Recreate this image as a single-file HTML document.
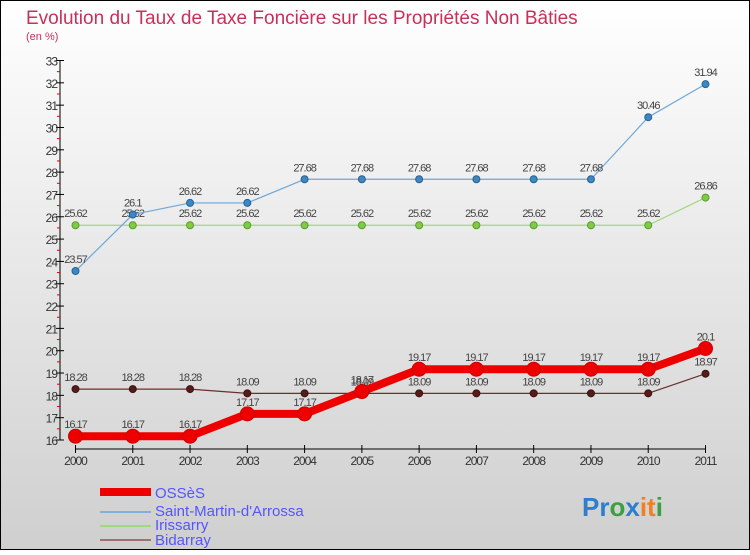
<!DOCTYPE html>
<html><head><meta charset="utf-8"><style>
body{margin:0;width:750px;height:550px;overflow:hidden;font-family:"Liberation Sans",sans-serif}
svg text{font-family:"Liberation Sans",sans-serif}
</style></head><body>
<svg id="c" width="750" height="550" xmlns="http://www.w3.org/2000/svg">
<defs><linearGradient id="bg" x1="0" y1="0" x2="0" y2="1"><stop offset="0" stop-color="#ffffff"/><stop offset="1" stop-color="#cfcfcf"/></linearGradient></defs>
<rect x="0.5" y="0.5" width="749" height="549" fill="url(#bg)" stroke="#000"/>
<text x="26" y="24" font-size="19" fill="#c8305a">Evolution du Taux de Taxe Foncière sur les Propriétés Non Bâties</text>
<text x="26" y="40" font-size="11" fill="#c8305a">(en %)</text>
<g id="axes"></g><g id="series"></g>
<g>
<rect x="100" y="488" width="51" height="8" fill="#ee0000"/>
<text x="155" y="498" font-size="15" fill="#5555ff">OSSèS</text>
<rect x="100" y="511" width="51" height="2" fill="#7fb0d8"/>
<text x="155" y="516" font-size="15" fill="#5555ff">Saint-Martin-d'Arrossa</text>
<rect x="100" y="525" width="51" height="2" fill="#9ed87f"/>
<text x="155" y="530" font-size="15" fill="#5555ff">Irissarry</text>
<rect x="100" y="539" width="51" height="2" fill="#a07070"/>
<text x="155" y="545" font-size="15" fill="#5555ff">Bidarray</text>
</g>
<text x="582" y="516" font-size="26" font-weight="bold"><tspan fill="#2a7fd0">Pr</tspan><tspan fill="#3aa040">o</tspan><tspan fill="#2a7fd0">x</tspan><tspan fill="#f08020">it</tspan><tspan fill="#3aa040">i</tspan></text>
</svg>
<script>
const years=["2000","2001","2002","2003","2004","2005","2006","2007","2008","2009","2010","2011"];
const osses=[16.17,16.17,16.17,17.17,17.17,18.17,19.17,19.17,19.17,19.17,19.17,20.1];
const saintMartin=[23.57,26.1,26.62,26.62,27.68,27.68,27.68,27.68,27.68,27.68,30.46,31.94];
const irissarry=[25.62,25.62,25.62,25.62,25.62,25.62,25.62,25.62,25.62,25.62,25.62,26.86];
const bidarray=[18.28,18.28,18.28,18.09,18.09,18.09,18.09,18.09,18.09,18.09,18.09,18.97];
const yTicks=[16,17,18,19,20,21,22,23,24,25,26,27,28,29,30,31,32,33];
const NS="http://www.w3.org/2000/svg";
const X=i=>75.5+i*(630/11);
const Y=v=>440-(v-16)*(379.5/17);
function mk(p,t,a){const e=document.createElementNS(NS,t);for(const k in a)e.setAttribute(k,a[k]);p.appendChild(e);return e;}
const ax=document.getElementById('axes'),se=document.getElementById('series');
let l=mk(ax,'line',{x1:60,y1:Y(33),x2:60,y2:440,stroke:'#000'});

yTicks.forEach(v=>{mk(ax,'line',{x1:56,x2:64,y1:Y(v),y2:Y(v),stroke:'#000'});
 if(v<33)mk(ax,'line',{x1:57,x2:60,y1:Y(v+0.5),y2:Y(v+0.5),stroke:'#e00000'});
 const t=mk(ax,'text',{x:57,y:Y(v)+5,'font-size':12,fill:'#333','text-anchor':'end','letter-spacing':'-1'});t.textContent=v;
 });
l=mk(ax,'line',{x1:X(0),y1:449,x2:X(11),y2:449,stroke:'#000'});

years.forEach((y,i)=>{mk(ax,'line',{x1:X(i),x2:X(i),y1:445,y2:453,stroke:'#000'});
 const t=mk(ax,'text',{x:X(i),y:465,'font-size':12,fill:'#333','text-anchor':'middle','letter-spacing':'-1'});t.textContent=y;
 });
function series(d,name,line,w,dot,r,dotStroke){
 const g=mk(se,'g',{});
 const p=mk(g,'polyline',{points:d.map((v,i)=>X(i)+','+Y(v)).join(' '),fill:'none',stroke:line,'stroke-width':w,'stroke-linejoin':'round'});
 
 d.forEach((v,i)=>{const c=mk(g,'circle',{cx:X(i),cy:Y(v),r:r,fill:dot,stroke:dotStroke,'stroke-width':1});
  
  const t=mk(g,'text',{x:X(i),y:Y(v)-8,'font-size':11,fill:'#444','text-anchor':'middle','letter-spacing':'-1'});t.textContent=v;
  });
}
series(irissarry,'irissarry','#9ed87f',1.2,'#7ccf3c',3.5,'#5a9a30');
series(saintMartin,'saint-martin','#6ea8d8',1.2,'#3a88c8',3.5,'#2a6090');
series(bidarray,'bidarray','#6a3030',1.2,'#5a1a1a',3.5,'#3a1010');
series(osses,'osses','#ee0000',8,'#ee0000',7,'#cc0000');
</script>
</body></html>
